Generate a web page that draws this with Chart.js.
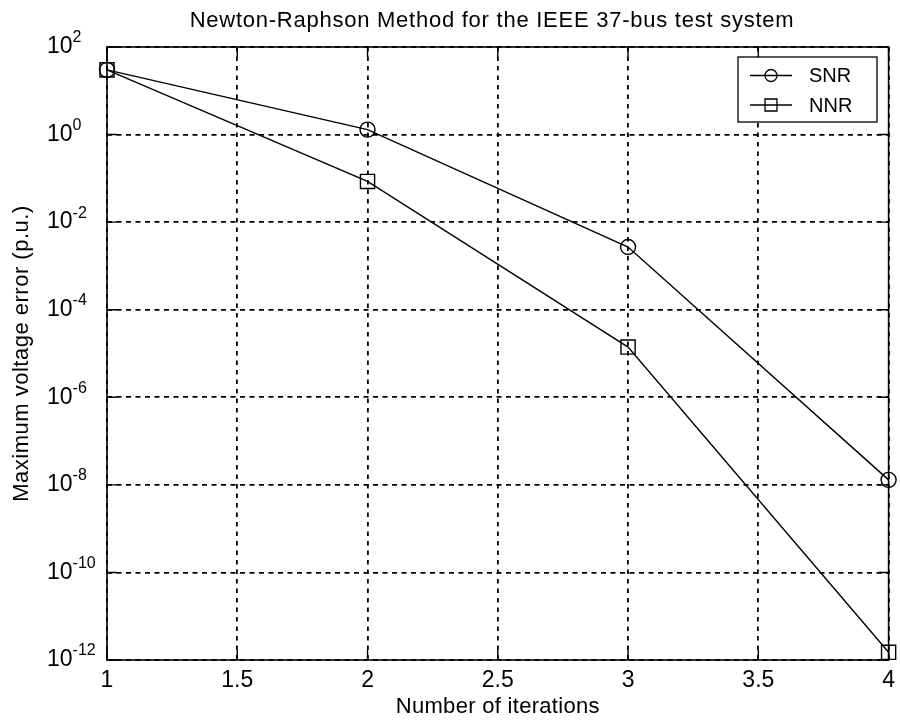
<!DOCTYPE html>
<html>
<head>
<meta charset="utf-8">
<script src="https://cdn.jsdelivr.net/npm/chart.js@4.4.1/dist/chart.umd.min.js"></script>
<style>
  html, body { margin: 0; padding: 0; background: #fff; }
  #wrap { width: 900px; height: 721px; }
</style>
</head>
<body>
<div id="wrap"><canvas id="c" width="900" height="721"></canvas></div>
<script>
// Convergence of the maximum voltage error per Newton-Raphson iteration
const iterations = [1, 2, 3, 4];
const snrError = [30, 1.3, 2.7e-3, 1.3e-8];
const nnrError = [30, 8.5e-2, 1.4e-5, 1.5e-12];
const seriesNames = ['SNR', 'NNR'];
const xTicks = [1, 1.5, 2, 2.5, 3, 3.5, 4];
const yExponents = [2, 0, -2, -4, -6, -8, -10, -12];
const titleText = 'Newton-Raphson Method for the IEEE 37-bus test system';
const xTitleText = 'Number of iterations';
const yTitleText = 'Maximum voltage error (p.u.)';

const FONT = '"Liberation Sans", Arial, sans-serif';
const INK = '#000';

function toPoints(ys) {
  return iterations.map((x, i) => ({ x: x, y: ys[i] }));
}

// Frame, inward tick marks, tick labels, titles and legend box
const axesDecor = {
  id: 'axesDecor',
  afterDraw(chart) {
    const ctx = chart.ctx;
    const a = chart.chartArea;
    const xs = chart.scales.x;
    const ys = chart.scales.y;
    ctx.save();

    // axes box
    ctx.strokeStyle = INK;
    ctx.lineWidth = 1.6;
    ctx.setLineDash([]);
    ctx.strokeRect(a.left, a.top, a.right - a.left, a.bottom - a.top);

    // inward ticks on all four sides
    const tl = 10;
    ctx.lineWidth = 1.4;
    ctx.beginPath();
    xTicks.forEach(v => {
      const px = xs.getPixelForValue(v);
      ctx.moveTo(px, a.bottom); ctx.lineTo(px, a.bottom - tl);
      ctx.moveTo(px, a.top); ctx.lineTo(px, a.top + tl);
    });
    yExponents.forEach(e => {
      const py = ys.getPixelForValue(Math.pow(10, e));
      ctx.moveTo(a.left, py); ctx.lineTo(a.left + tl, py);
      ctx.moveTo(a.right, py); ctx.lineTo(a.right - tl, py);
    });
    ctx.stroke();

    ctx.fillStyle = INK;

    // x tick labels
    ctx.font = '23px ' + FONT;
    ctx.textAlign = 'center';
    ctx.textBaseline = 'middle';
    xTicks.forEach(v => {
      ctx.fillText(String(v), xs.getPixelForValue(v), a.bottom + 21);
    });

    // y tick labels as 10 with a superscript exponent
    yExponents.forEach(e => {
      const py = ys.getPixelForValue(Math.pow(10, e));
      ctx.font = '23px ' + FONT;
      ctx.textAlign = 'left';
      ctx.textBaseline = 'middle';
      const x0 = 47;
      ctx.fillText('10', x0, py);
      const w = ctx.measureText('10').width;
      ctx.font = '16px ' + FONT;
      ctx.textBaseline = 'top';
      ctx.fillText(String(e), x0 + w, py - 17);
    });

    // title
    ctx.font = '22px ' + FONT;
    ctx.textAlign = 'center';
    ctx.textBaseline = 'middle';
    ctx.letterSpacing = '0.75px';
    ctx.fillText(titleText, 492, 21);

    // x axis title
    ctx.letterSpacing = '0.3px';
    ctx.fillText(xTitleText, (a.left + a.right) / 2, 707);

    // y axis title
    ctx.save();
    ctx.letterSpacing = '0.5px';
    ctx.translate(22, (a.top + a.bottom) / 2);
    ctx.rotate(-Math.PI / 2);
    ctx.fillText(yTitleText, 0, 0);
    ctx.restore();
    ctx.letterSpacing = '0px';

    // legend
    const box = { x: 738, y: 57, w: 139, h: 65 };
    ctx.fillStyle = '#fff';
    ctx.fillRect(box.x, box.y, box.w, box.h);
    ctx.strokeStyle = INK;
    ctx.lineWidth = 1.3;
    ctx.strokeRect(box.x, box.y, box.w, box.h);
    const rows = [75.5, 105];
    chart.data.datasets.forEach((ds, i) => {
      const y = rows[i];
      ctx.beginPath();
      ctx.moveTo(750, y); ctx.lineTo(792, y);
      ctx.lineWidth = 1.3;
      ctx.stroke();
      ctx.beginPath();
      if (ds.pointStyle === 'circle') {
        ctx.arc(771, y, 6, 0, Math.PI * 2);
      } else {
        ctx.rect(765, y - 6, 12, 12);
      }
      ctx.stroke();
      ctx.fillStyle = INK;
      ctx.font = '20px ' + FONT;
      ctx.textAlign = 'left';
      ctx.textBaseline = 'middle';
      ctx.fillText(ds.label, 809, y + 1);
    });

    ctx.restore();
  }
};

new Chart(document.getElementById('c'), {
  type: 'line',
  data: {
    datasets: [
      {
        label: seriesNames[0],
        data: toPoints(snrError),
        borderColor: INK,
        borderWidth: 1.4,
        pointStyle: 'circle',
        pointRadius: 7.5,
        pointBorderWidth: 1.4,
        pointBorderColor: INK,
        pointBackgroundColor: 'rgba(0,0,0,0)',
        tension: 0,
        clip: false
      },
      {
        label: seriesNames[1],
        data: toPoints(nnrError),
        borderColor: INK,
        borderWidth: 1.4,
        pointStyle: 'rect',
        pointRadius: 10,
        pointBorderWidth: 1.4,
        pointBorderColor: INK,
        pointBackgroundColor: 'rgba(0,0,0,0)',
        tension: 0,
        clip: false
      }
    ]
  },
  options: {
    responsive: false,
    animation: false,
    devicePixelRatio: 1,
    layout: { padding: { left: 107, top: 47, right: 9, bottom: 61 } },
    plugins: {
      legend: { display: false },
      tooltip: { enabled: false },
      title: { display: false }
    },
    scales: {
      x: {
        type: 'linear',
        min: 1,
        max: 4,
        afterBuildTicks: s => { s.ticks = xTicks.map(v => ({ value: v })); },
        afterFit: s => { s.height = 0; },
        ticks: { display: false },
        grid: { color: INK, lineWidth: 1.8, drawTicks: false },
        border: { display: false, dash: [4.5, 5] }
      },
      y: {
        type: 'logarithmic',
        min: 1e-12,
        max: 1e2,
        afterBuildTicks: s => { s.ticks = yExponents.map(e => ({ value: Math.pow(10, e) })); },
        afterFit: s => { s.width = 0; },
        ticks: { display: false },
        grid: { color: INK, lineWidth: 1.8, drawTicks: false },
        border: { display: false, dash: [5, 4.5] }
      }
    }
  },
  plugins: [axesDecor]
});
</script>
</body>
</html>
